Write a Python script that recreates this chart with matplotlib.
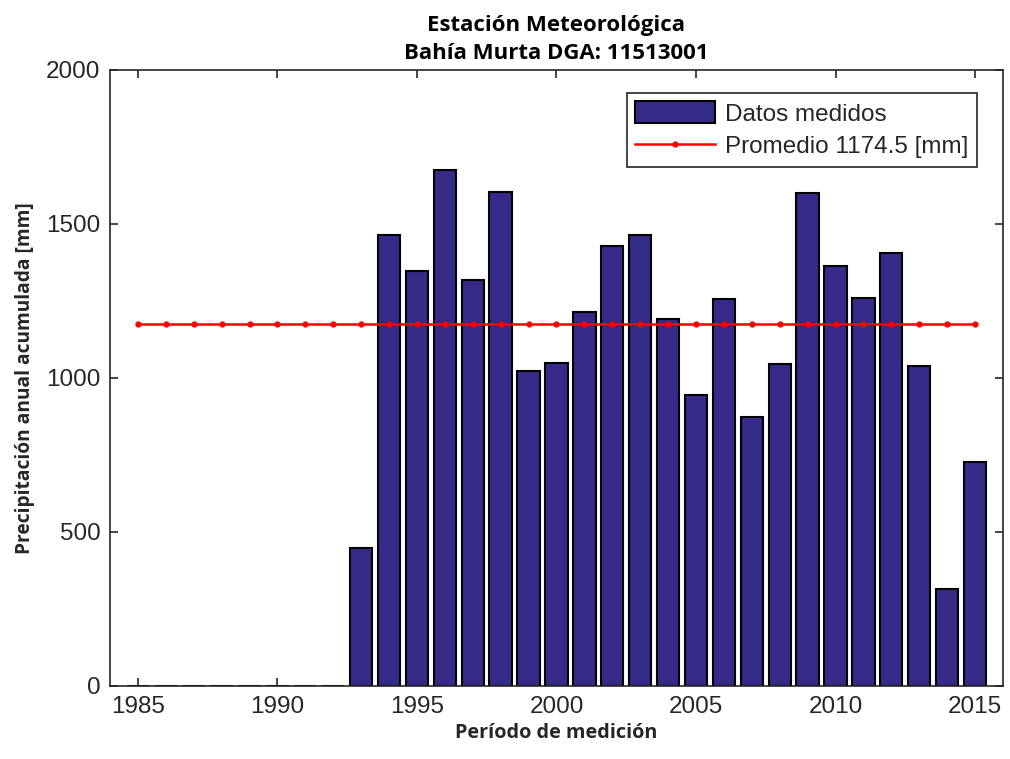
import matplotlib
matplotlib.use("Agg")
import matplotlib.pyplot as plt
import numpy as np

years = list(range(1985, 2016))
precip = [0, 0, 0, 0, 0, 0, 0, 0,
          447, 1463, 1347, 1675, 1318, 1605, 1023, 1048, 1213, 1430, 1463,
          1191, 946, 1255, 872, 1044, 1599, 1365, 1259, 1405, 1040, 315, 728]
mean_value = 1174.5
title_lines = ["Estación Meteorológica", "Bahía Murta DGA: 11513001"]
xlabel = "Período de medición"
ylabel = "Precipitación anual acumulada [mm]"
legend_labels = ["Datos medidos", "Promedio 1174.5 [mm]"]

fig = plt.figure(figsize=(10.1, 7.59), dpi=100)
ax = fig.add_axes([0.1089, 0.0962, 0.8841, 0.8116])

bars = ax.bar(years, precip, width=0.8, color="#352A87", edgecolor="black",
              linewidth=1.5, label=legend_labels[0], zorder=2)
line, = ax.plot(years, [mean_value] * len(years), color="red", linewidth=1.8,
                marker="o", markersize=3.5, label=legend_labels[1], zorder=3)

ax.set_xlim(1984, 2016)
ax.set_ylim(0, 2000)
ax.set_xticks(range(1985, 2016, 5))
ax.set_yticks(range(0, 2001, 500))

tick_font = "Liberation Sans"
label_font = "Open Sans"
for lab in ax.get_xticklabels() + ax.get_yticklabels():
    lab.set_fontfamily(tick_font)
    lab.set_fontsize(17.5)
    lab.set_color("#262626")
ax.tick_params(direction="in", length=6, width=1.2, top=True, right=True,
               colors="#262626", pad=7)
for s in ax.spines.values():
    s.set_linewidth(1.2)
    s.set_color("#262626")

ax.set_title("\n".join(title_lines), fontfamily=label_font, fontweight="bold",
             fontsize=16, pad=8, linespacing=1.45)
ax.set_xlabel(xlabel, fontfamily=label_font, fontweight="bold", fontsize=14.3,
              color="#262626", labelpad=4)
ax.set_ylabel(ylabel, fontfamily=label_font, fontweight="bold", fontsize=13.8,
              color="#262626", labelpad=8)

leg = ax.legend([bars, line], legend_labels, loc="upper right",
                bbox_to_anchor=(0.971, 0.9627),
                prop={"family": tick_font, "size": 17.5}, fancybox=False,
                edgecolor="#262626", framealpha=1, borderaxespad=0,
                handlelength=3.3, handleheight=1.0, handletextpad=0.4,
                labelspacing=0.35, borderpad=0.35)
leg.get_frame().set_linewidth(1.2)
for t in leg.get_texts():
    t.set_color("#262626")

fig.savefig("out.png", dpi=100)
